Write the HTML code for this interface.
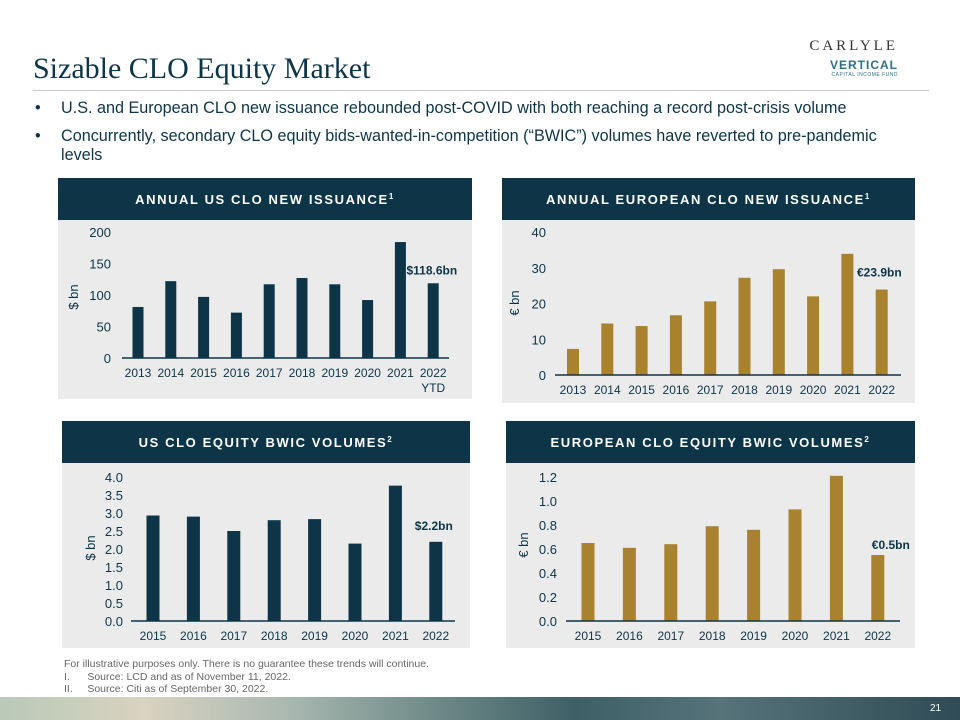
<!DOCTYPE html>
<html><head><meta charset="utf-8"><style>
body{margin:0;width:960px;height:720px;position:relative;background:#fff;font-family:"Liberation Sans",sans-serif;overflow:hidden;color:#0d3547}
.abs{position:absolute}
</style></head><body>
<div class="abs" style="left:33px;top:52px;font-family:'Liberation Serif',serif;font-size:30px;color:#0d3547">Sizable CLO Equity Market</div>
<div class="abs" style="right:62px;top:38px;font-family:'Liberation Serif',serif;font-size:15px;letter-spacing:3px;color:#333">CARLYLE</div>
<div class="abs" style="right:62px;top:58px;font-size:12px;font-weight:bold;color:#2e6f86;letter-spacing:1px;text-align:right">VERTICAL<div style="font-size:5px;font-weight:normal;letter-spacing:0.5px">CAPITAL INCOME FUND</div></div>
<div class="abs" style="left:33px;top:90px;width:896px;height:1px;background:#ccc"></div>
<div class="abs" style="left:35px;top:99px;font-size:16.2px;color:#0d3547;width:890px"><span>•</span><span style="position:absolute;left:26px;white-space:nowrap">U.S. and European CLO new issuance rebounded post-COVID with both reaching a record post-crisis volume</span></div>
<div class="abs" style="left:35px;top:127px;font-size:16.2px;color:#0d3547;line-height:19px"><span>•</span><span style="position:absolute;left:26px;width:845px">Concurrently, secondary CLO equity bids-wanted-in-competition (“BWIC”) volumes have reverted to pre-pandemic levels</span></div>

<svg id="charts" class="abs" style="left:0;top:0" width="960" height="720"></svg>

<div class="abs" style="left:64px;top:658px;font-size:10.5px;color:#666;line-height:12.5px">For illustrative purposes only. There is no guarantee these trends will continue.<br>I.&nbsp;&nbsp;&nbsp;&nbsp;&nbsp;&nbsp;Source: LCD and as of November 11, 2022.<br>II.&nbsp;&nbsp;&nbsp;&nbsp;&nbsp;Source: Citi as of September 30, 2022.</div>
<div class="abs" style="left:0;top:697px;width:960px;height:23px;background:linear-gradient(90deg,#b9c9b8 0%,#d9d3c0 15%,#a9b8b1 30%,#6f8b88 45%,#3e5f66 60%,#56737a 75%,#2f4b55 100%)"></div>
<div class="abs" style="left:930px;top:703px;font-size:10px;color:#fff">21</div>

<script>
const usCats=["2013","2014","2015","2016","2017","2018","2019","2020","2021","2022"];
const usVals=[81,122,97,72,117,127,117,92,184,118.6];
const usTicks=["0","50","100","150","200"];
const euCats=["2013","2014","2015","2016","2017","2018","2019","2020","2021","2022"];
const euVals=[7.3,14.4,13.7,16.7,20.6,27.2,29.6,22.0,33.9,23.9];
const euTicks=["0","10","20","30","40"];
const usBwicCats=["2015","2016","2017","2018","2019","2020","2021","2022"];
const usBwicVals=[2.93,2.9,2.5,2.8,2.83,2.15,3.76,2.2];
const usBwicTicks=["0.0","0.5","1.0","1.5","2.0","2.5","3.0","3.5","4.0"];
const euBwicCats=["2015","2016","2017","2018","2019","2020","2021","2022"];
const euBwicVals=[0.65,0.61,0.64,0.79,0.76,0.93,1.21,0.55];
const euBwicTicks=["0.0","0.2","0.4","0.6","0.8","1.0","1.2"];

const NS="http://www.w3.org/2000/svg";
const svg=document.getElementById('charts');
function mk(tag,attrs,parent){const e=document.createElementNS(NS,tag);for(const k in attrs)e.setAttribute(k,attrs[k]);(parent||svg).appendChild(e);return e;}

function chart(o){
  const g=mk('g',{});
  
  
  const bg=mk('rect',{x:o.px,y:o.py+42,width:o.pw,height:o.ph-42,fill:'#ebebeb'},g);
  
  
  const hd=mk('rect',{x:o.px,y:o.py,width:o.pw,height:42,fill:'#0d3547'},g);
  
  
  const ht=mk('text',{x:o.px+o.pw/2,y:o.py+26,'text-anchor':'middle',fill:'#fff','font-size':13,'font-weight':'bold','letter-spacing':1.6},g);
  ht.textContent=o.title;
  
  
  const sup=mk('tspan',{'font-size':8,dy:-5},ht);sup.textContent=o.sup;
  const maxV=parseFloat(o.ticks[o.ticks.length-1]);
  const y=v=>o.y0-(v/maxV)*(o.y0-o.yTop);
  const x=i=>o.x0+i*o.step;
  o.ticks.forEach(t=>{
    const tl=mk('text',{x:o.tickX,y:y(parseFloat(t))+5,'text-anchor':'end','font-size':13,fill:'#0d3547'},g);
    tl.textContent=t;
    
    
  });
  o.vals.forEach((v,i)=>{
    const b=mk('rect',{x:x(i)-o.bw/2,y:y(v),width:o.bw,height:o.y0-y(v),fill:o.color},g);
    
    
    const c=mk('text',{x:x(i),y:o.y0+19,'text-anchor':'middle','font-size':12,fill:'#0d3547'},g);
    c.textContent=o.cats[i];
    
    
  });
  const ax=mk('line',{x1:o.axL,x2:o.axR,y1:o.y0,y2:o.y0,stroke:'#0d3547','stroke-width':1.5},g);
  
  
  const yt=mk('text',{transform:`translate(${o.ytX},${o.ytY}) rotate(-90)`,'text-anchor':'middle','font-size':13,fill:'#0d3547'},g);
  yt.textContent=o.ytitle;
  
  
  const last=o.vals.length-1;
  const an=mk('text',{x:x(last)+o.annDx,y:y(o.vals[last])+o.annDy,'text-anchor':'end','font-size':12,'font-weight':'bold',fill:'#0d3547'},g);
  an.textContent=o.ann;
  
  
  if(o.extra){const e=mk('text',{x:x(last),y:o.y0+34,'text-anchor':'middle','font-size':12,fill:'#0d3547'},g);e.textContent=o.extra;
    
    }
}
chart({name:'us-clo-issuance-chart',title:'ANNUAL US CLO NEW ISSUANCE',sup:'1',px:58,py:178,pw:414,ph:221,cats:usCats,vals:usVals,ticks:usTicks,
  y0:358,yTop:232,x0:138,step:32.8,bw:11,color:'#0d3547',tickX:111,axL:122,axR:449,ytX:78,ytY:297,ytitle:'$ bn',ann:'$118.6bn',annDx:24,annDy:-9,extra:'YTD'});
chart({name:'eu-clo-issuance-chart',title:'ANNUAL EUROPEAN CLO NEW ISSUANCE',sup:'1',px:502,py:178,pw:413,ph:225,cats:euCats,vals:euVals,ticks:euTicks,
  y0:375,yTop:232,x0:573,step:34.3,bw:12,color:'#a8822f',tickX:546,axL:555,axR:901,ytX:519,ytY:303,ytitle:'€ bn',ann:'€23.9bn',annDx:20,annDy:-13});
chart({name:'us-bwic-chart',title:'US CLO EQUITY BWIC VOLUMES',sup:'2',px:62,py:421,pw:408,ph:227,cats:usBwicCats,vals:usBwicVals,ticks:usBwicTicks,
  y0:621,yTop:477,x0:153,step:40.4,bw:13,color:'#0d3547',tickX:123,axL:131,axR:455,ytX:95,ytY:548,ytitle:'$ bn',ann:'$2.2bn',annDx:17,annDy:-12});
chart({name:'eu-bwic-chart',title:'EUROPEAN CLO EQUITY BWIC VOLUMES',sup:'2',px:506,py:421,pw:409,ph:227,cats:euBwicCats,vals:euBwicVals,ticks:euBwicTicks,
  y0:621,yTop:477,x0:588,step:41.4,bw:13,color:'#a8822f',tickX:557,axL:566,axR:900,ytX:528,ytY:545,ytitle:'€ bn',ann:'€0.5bn',annDx:32,annDy:-6});
</script>
</body></html>
